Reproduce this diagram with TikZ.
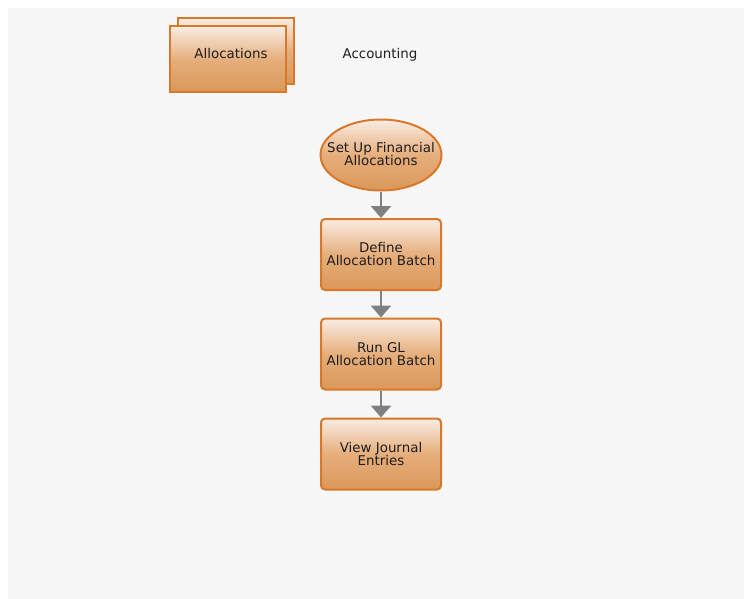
\documentclass[tikz,border=0pt]{standalone}
\usepackage{fontspec}
\setmainfont{DejaVu Sans}
\usetikzlibrary{shapes.geometric,arrows.meta}
\definecolor{bgc}{HTML}{F7F7F7}
\definecolor{edgec}{HTML}{D9782A}
\definecolor{topc}{HTML}{FAEDE3}
\definecolor{midc}{HTML}{E6AE7C}
\definecolor{botc}{HTML}{DA9858}
\definecolor{arrc}{HTML}{808080}
\definecolor{txtc}{HTML}{1E1E1E}
\tikzset{
  x=1pt,y=-1pt,
  lblfont/.style={font=\fontsize{13.4}{13}\selectfont,text=txtc},
  orangebox/.style={draw=edgec,line width=2pt,top color=topc,bottom color=botc,middle color=midc,
    rounded corners=4pt,minimum width=120pt,minimum height=71pt,inner sep=0pt,
    align=center,lblfont},
  orangeell/.style={ellipse,draw=edgec,line width=2pt,top color=topc,bottom color=botc,middle color=midc,
    minimum width=121pt,minimum height=71pt,inner sep=0pt},
  stackbox/.style={draw=edgec,line width=2pt,top color=topc,bottom color=botc,middle color=midc,
    minimum width=116pt,minimum height=66pt,inner sep=0pt,lblfont},
  flowarrow/.style={draw=arrc,line width=2.8pt,-{Triangle[width=20pt,length=12pt]}}
}
\begin{document}
\begin{tikzpicture}
\useasboundingbox (0,0) rectangle (744,599);
\fill[white] (0,0) rectangle (744,599);
\fill[bgc] (8,8) rectangle (744,599);
\node[stackbox] (allocback) at (236,51) {};
\node[stackbox] (alloc) at (227.5,59.5) {};
\node[lblfont] (alloclbl) at (231,54) {Allocations};
\node[lblfont] (acct) at (380,55) {Accounting};
\node[orangeell] (setup) at (381,155) {};
\node[lblfont,align=center] (setuplbl) at (381,154) {Set Up Financial\\Allocations};
\node[orangebox] (define) at (381,254.5) {Define\\Allocation Batch};
\node[orangebox] (run) at (381,354) {Run GL\\Allocation Batch};
\node[orangebox] (view) at (381,454) {View Journal\\Entries};
\draw[flowarrow] (setup) -- (define);
\draw[flowarrow] (define) -- (run);
\draw[flowarrow] (run) -- (view);
\end{tikzpicture}
\end{document}
